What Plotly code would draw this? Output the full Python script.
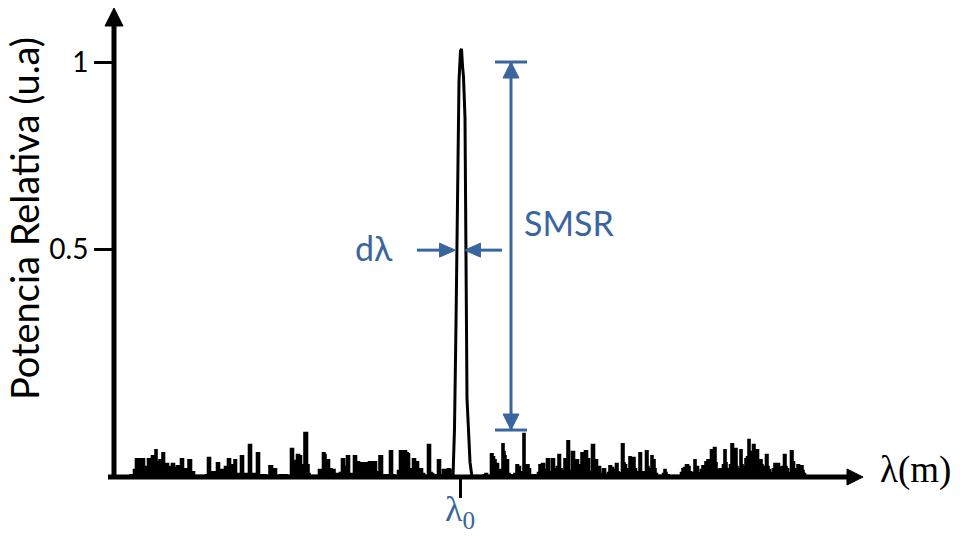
import plotly.graph_objects as go

# ---------------- data ----------------
# wavelength offset from lambda0 (arbitrary units) and relative power
noise_dl_left = [-330, -329, -327, -325, -323, -321, -319, -317, -315, -313, -311, -309, -307, -305, -304, -303, -301, -300, -298, -297,
                 -295, -293, -291, -289, -287, -285, -284, -282, -280, -278, -276, -275, -273, -270, -268, -267, -265, -255, -253, -251,
                 -249, -246, -244, -242, -240, -238, -236, -234, -233, -231, -229, -228, -226, -225, -223, -222, -220, -218, -216, -214,
                 -212, -210, -208, -206, -204, -202, -200, -197, -192, -189, -187, -185, -183, -177, -170, -168, -166, -164, -162, -160,
                 -158, -156, -155, -154, -152, -151, -150, -142, -140, -138, -136, -135, -134, -132, -130, -127, -124, -121, -119, -117,
                 -115, -114, -112, -110, -109, -107, -105, -103, -102, -100, -98, -96, -94, -92, -90, -88, -85, -83, -82, -79,
                 -77, -75, -71, -69, -67, -65, -63, -61, -59, -57, -55, -53, -52, -50, -48, -46, -44, -43, -41, -39,
                 -37, -35, -33, -31, -29, -28, -26, -23, -21, -19, -18, -16, -14, -13, -11, -10, -9, -8]
noise_p_left = [-0.110, -0.105, -0.105, -0.091, -0.062, -0.062, -0.078, -0.062, -0.083, -0.089, -0.062, -0.073, -0.054, -0.078, -0.038, -0.070, -0.078, -0.065, -0.083, -0.046,
                -0.078, -0.075, -0.083, -0.094, -0.075, -0.086, -0.094, -0.081, -0.094, -0.062, -0.094, -0.089, -0.102, -0.065, -0.099, -0.097, -0.107, -0.107, -0.105, -0.059,
                -0.099, -0.097, -0.102, -0.073, -0.097, -0.091, -0.102, -0.083, -0.099, -0.062, -0.094, -0.078, -0.097, -0.065, -0.105, -0.102, -0.105, -0.054, -0.105, -0.102,
                -0.105, -0.024, -0.102, -0.102, -0.105, -0.046, -0.105, -0.105, -0.107, -0.081, -0.094, -0.089, -0.107, -0.105, -0.107, -0.035, -0.102, -0.067, -0.051, -0.054,
                -0.078, -0.078, 0.008, 0.008, -0.078, -0.102, -0.107, -0.107, -0.091, -0.094, -0.046, -0.051, -0.073, -0.065, -0.089, -0.091, -0.102, -0.107, -0.099, -0.062,
                -0.083, -0.089, -0.054, -0.102, -0.107, -0.102, -0.054, -0.078, -0.070, -0.097, -0.073, -0.075, -0.073, -0.078, -0.070, -0.089, -0.070, -0.097, -0.102, -0.054,
                -0.105, -0.107, -0.105, -0.041, -0.105, -0.107, -0.107, -0.094, -0.041, -0.043, -0.041, -0.046, -0.049, -0.089, -0.102, -0.062, -0.089, -0.070, -0.102, -0.089,
                -0.102, -0.107, -0.107, -0.024, -0.099, -0.102, -0.107, -0.105, -0.065, -0.105, -0.107, -0.091, -0.097, -0.091, -0.089, -0.091, -0.105, -0.110]

noise_dl_right = [12, 14, 23, 25, 26, 28, 30, 32, 33, 35, 36, 37, 39, 40, 42, 43, 44, 45, 46, 47,
                  49, 50, 53, 56, 57, 59, 61, 63, 64, 65, 66, 68, 69, 71, 74, 77, 79, 80, 81, 83,
                  85, 86, 88, 90, 91, 93, 95, 96, 98, 99, 101, 102, 104, 105, 107, 108, 110, 111, 113, 115,
                  117, 119, 121, 122, 124, 126, 128, 130, 131, 133, 135, 136, 138, 139, 141, 142, 144, 146, 147, 149,
                  150, 152, 154, 155, 157, 158, 159, 161, 163, 164, 165, 167, 169, 170, 171, 172, 174, 175, 177, 179,
                  180, 182, 183, 185, 187, 188, 189, 191, 192, 193, 194, 195, 196, 198, 202, 204, 205, 206, 207, 210,
                  220, 222, 223, 225, 227, 229, 230, 232, 234, 235, 236, 237, 239, 240, 242, 243, 245, 246, 247, 248,
                  250, 252, 253, 255, 256, 257, 259, 260, 262, 264, 265, 266, 267, 269, 271, 272, 274, 276, 277, 278,
                  280, 281, 282, 283, 285, 286, 288, 289, 290, 292, 294, 295, 297, 299, 301, 302, 303, 305, 307, 308,
                  309, 311, 312, 314, 315, 317, 318, 320, 321, 323, 325, 326, 327, 329, 330, 332, 333, 335, 337, 338,
                  340, 342, 343, 344, 346]
noise_p_right = [-0.110, -0.107, -0.107, -0.105, -0.102, -0.107, -0.107, -0.049, -0.057, -0.065, -0.083, -0.075, -0.094, -0.091, -0.097, -0.022, -0.043, -0.054, -0.070, -0.065,
                 -0.102, -0.105, -0.107, -0.102, -0.078, -0.083, -0.102, -0.097, 0.005, -0.083, -0.102, -0.078, -0.089, -0.105, -0.107, -0.105, -0.099, -0.078, -0.094, -0.075,
                 -0.097, -0.091, -0.062, -0.097, -0.102, -0.062, -0.094, -0.089, -0.083, -0.051, -0.089, -0.102, -0.094, -0.062, -0.083, -0.014, -0.094, -0.102, -0.043, -0.078,
                 -0.065, -0.083, -0.078, -0.046, -0.073, -0.041, -0.062, -0.097, -0.102, -0.024, -0.083, -0.065, -0.097, -0.083, -0.102, -0.105, -0.089, -0.105, -0.107, -0.099,
                 -0.081, -0.086, -0.091, -0.097, -0.075, -0.097, -0.102, -0.099, -0.022, -0.073, -0.078, -0.097, -0.089, -0.057, -0.075, -0.083, -0.059, -0.089, -0.102, -0.097,
                 -0.046, -0.097, -0.102, -0.097, -0.041, -0.083, -0.102, -0.089, -0.054, -0.078, -0.065, -0.089, -0.102, -0.107, -0.107, -0.102, -0.091, -0.099, -0.105, -0.107,
                 -0.107, -0.099, -0.089, -0.086, -0.078, -0.083, -0.097, -0.105, -0.099, -0.065, -0.086, -0.083, -0.099, -0.102, -0.091, -0.081, -0.083, -0.070, -0.078, -0.065,
                 -0.083, -0.038, -0.057, -0.032, -0.073, -0.091, -0.094, -0.089, -0.094, -0.078, -0.038, -0.073, -0.102, -0.089, -0.078, -0.022, -0.073, -0.035, -0.083, -0.102,
                 -0.089, -0.038, -0.078, -0.089, -0.083, -0.062, -0.057, -0.011, -0.043, -0.057, -0.024, -0.051, -0.038, -0.073, -0.065, -0.078, -0.083, -0.089, -0.051, -0.083,
                 -0.091, -0.099, -0.102, -0.089, -0.075, -0.083, -0.075, -0.086, -0.089, -0.083, -0.051, -0.083, -0.089, -0.099, -0.102, -0.041, -0.070, -0.097, -0.089, -0.078,
                 -0.081, -0.081, -0.094, -0.102, -0.110]

peak_dl = [-7, -5.5, -4, -3, -2, -1, 0.5, 1.5, 2.5, 3.5, 5, 5.5, 6, 7, 8.5, 10, 12]
peak_p = [-0.110, 0.020, 0.300, 0.550, 0.800, 0.950, 1.030, 1.035, 0.990, 0.960, 0.850, 0.600, 0.350, 0.100, 0.016, -0.070, -0.110]

y_tickvals = [0.5, 1]
y_ticktext = ["0.5", "1"]
x_tickvals = [0]
x_ticktext = ["λ<sub>0</sub>"]
x_title = "λ(m)"
y_title = "Potencia Relativa (u.a)"
smsr_label = "SMSR"
dl_label = "dλ"

peak_level = 1.0      # main mode level
noise_level = 0.016   # highest side mode level
fwhm_level = 0.497    # level where the linewidth is marked
smsr_dl = 51
dl_left_start, dl_left_tip = -43, -4.5
dl_right_start, dl_right_tip = 42, 4.5

# ---------------- layout ----------------
W, H = 960, 536
ML, MR, MT, MB = 114, 113, 26, 59
PW, PH = W - ML - MR, H - MT - MB
BLUE = "#3B659F"
X_RANGE = [-346, 387]
Y_RANGE = [-0.1096, 1.0963]


def pxx(px):
    return (px - ML) / PW


def pxy(py):
    return 1 - (py - MT) / PH


fig = go.Figure()
for xs, ys in ((noise_dl_left, noise_p_left), (noise_dl_right, noise_p_right)):
    fig.add_trace(go.Scatter(x=xs, y=ys, mode="lines", fill="toself", line_shape="hvh",
                             fillcolor="black", line=dict(color="black", width=2.6), hoverinfo="skip"))
fig.add_trace(go.Scatter(x=peak_dl, y=peak_p, mode="lines",
                         line=dict(color="black", width=3), hoverinfo="skip"))

shapes = []
# axes lines
shapes.append(dict(type="line", xref="paper", yref="paper", x0=pxx(108), x1=1, y0=0, y1=0,
                   line=dict(color="black", width=5), layer="above"))
shapes.append(dict(type="line", xref="paper", yref="paper", x0=0, x1=0, y0=pxy(479), y1=1,
                   line=dict(color="black", width=5), layer="above"))
# axis arrowheads
shapes.append(dict(type="path", xref="paper", yref="paper", xsizemode="pixel", ysizemode="pixel",
                   xanchor=0, yanchor=1, path="M -9,0 L 9,0 L 0,18 Z",
                   fillcolor="black", line=dict(color="black", width=1), layer="above"))
shapes.append(dict(type="path", xref="paper", yref="paper", xsizemode="pixel", ysizemode="pixel",
                   xanchor=1, yanchor=0, path="M 0,-8 L 0,8 L 16,0 Z",
                   fillcolor="black", line=dict(color="black", width=1), layer="above"))
# SMSR dimension arrow
shapes.append(dict(type="line", x0=smsr_dl, x1=smsr_dl, y0=noise_level, y1=peak_level,
                   line=dict(color=BLUE, width=3)))
for lvl in (peak_level, noise_level):
    shapes.append(dict(type="line", x0=smsr_dl - 16, x1=smsr_dl + 16, y0=lvl, y1=lvl,
                       line=dict(color=BLUE, width=3)))
shapes.append(dict(type="path", xsizemode="pixel", ysizemode="pixel", xanchor=smsr_dl, yanchor=peak_level,
                   path="M 0,0 L -8,-16 L 8,-16 Z", fillcolor=BLUE, line=dict(color=BLUE, width=1)))
shapes.append(dict(type="path", xsizemode="pixel", ysizemode="pixel", xanchor=smsr_dl, yanchor=noise_level,
                   path="M 0,0 L -8,16 L 8,16 Z", fillcolor=BLUE, line=dict(color=BLUE, width=1)))
# d-lambda arrows
shapes.append(dict(type="line", x0=dl_left_start, x1=dl_left_tip - 12, y0=fwhm_level, y1=fwhm_level,
                   line=dict(color=BLUE, width=3)))
shapes.append(dict(type="path", xsizemode="pixel", ysizemode="pixel", xanchor=dl_left_tip, yanchor=fwhm_level,
                   path="M 0,0 L -16,7 L -16,-7 Z", fillcolor=BLUE, line=dict(color=BLUE, width=1)))
shapes.append(dict(type="line", x0=dl_right_start, x1=dl_right_tip + 12, y0=fwhm_level, y1=fwhm_level,
                   line=dict(color=BLUE, width=3)))
shapes.append(dict(type="path", xsizemode="pixel", ysizemode="pixel", xanchor=dl_right_tip, yanchor=fwhm_level,
                   path="M 0,0 L 16,7 L 16,-7 Z", fillcolor=BLUE, line=dict(color=BLUE, width=1)))

annotations = [
    dict(text=y_title, xref="paper", yref="paper", x=pxx(24), y=pxy(219), textangle=-90,
         showarrow=False, xanchor="center", yanchor="middle",
         font=dict(family="Lato", size=38, color="black")),
    dict(text=smsr_label, xref="paper", yref="paper", x=pxx(522), y=pxy(222),
         showarrow=False, xanchor="left", yanchor="middle",
         font=dict(family="Lato", size=34, color=BLUE)),
    dict(text=dl_label, xref="paper", yref="paper", x=pxx(374), y=pxy(248),
         showarrow=False, xanchor="center", yanchor="middle",
         font=dict(family="Lato", size=34, color=BLUE)),
    dict(text=x_title, xref="paper", yref="paper", x=pxx(878), y=pxy(470),
         showarrow=False, xanchor="left", yanchor="middle",
         font=dict(family="Liberation Serif", size=37, color="black")),
    dict(text=x_ticktext[0], xref="x", yref="paper", x=x_tickvals[0], y=pxy(511),
         showarrow=False, xanchor="center", yanchor="middle",
         font=dict(family="Liberation Serif", size=36, color=BLUE)),
]

fig.update_layout(
    width=W, height=H, autosize=False,
    margin=dict(l=ML, r=MR, t=MT, b=MB, pad=0, autoexpand=False),
    paper_bgcolor="white", plot_bgcolor="white",
    showlegend=False,
    shapes=shapes, annotations=annotations,
    xaxis=dict(range=X_RANGE, showgrid=False, zeroline=False, showline=False, automargin=False,
               tickmode="array", tickvals=x_tickvals, showticklabels=False,
               ticks="outside", ticklen=20, tickwidth=2.5, tickcolor="black", fixedrange=True),
    yaxis=dict(range=Y_RANGE, showgrid=False, zeroline=False, showline=False, automargin=False,
               tickmode="array", tickvals=y_tickvals, ticktext=y_ticktext,
               ticks="outside", ticklen=19, tickwidth=2.5, tickcolor="black",
               tickfont=dict(family="Lato", size=28, color="black"), fixedrange=True),
)

fig.write_html("out.html")
